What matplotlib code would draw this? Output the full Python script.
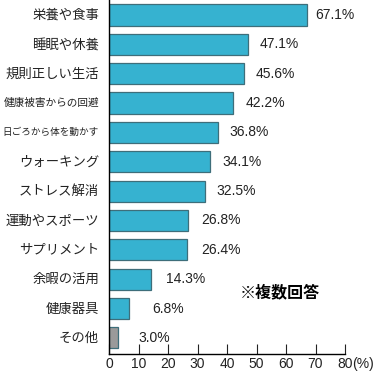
import matplotlib
matplotlib.use("Agg")
import matplotlib.pyplot as plt

plt.rcParams['font.family'] = ['Noto Sans CJK JP', 'DejaVu Sans']

# データ
categories = ["栄養や食事", "睡眠や休養", "規則正しい生活", "健康被害からの回避",
              "日ごろから体を動かす", "ウォーキング", "ストレス解消", "運動やスポーツ",
              "サプリメント", "余暇の活用", "健康器具", "その他"]
values = [67.1, 47.1, 45.6, 42.2, 36.8, 34.1, 32.5, 26.8, 26.4, 14.3, 6.8, 3.0]
xticks = [0, 10, 20, 30, 40, 50, 60, 70, 80]

bar_color = "#36b2d0"
other_color = "#9a9a9a"
label_gap = [2.8, 3.8, 4.2, 4.0, 4.0, 4.2, 3.8, 4.4, 4.8, 4.9, 7.8, 7.0]
num_font = ["Liberation Sans", "DejaVu Sans"]

fig = plt.figure(figsize=(3.77, 3.73), dpi=100)
ax = fig.add_axes([109/377, 19/373, (345-109)/377, 354/373])

colors = [bar_color] * (len(values) - 1) + [other_color]
pos = list(range(len(values)))
ax.barh(pos, values, height=0.72, color=colors, edgecolor="#3e6e7a", linewidth=0.9)

for i, v in enumerate(values):
    ax.text(v + label_gap[i], i, f"{v:.1f}%", va="center", ha="left",
            fontsize=10, family=num_font, color="#222222")

ax.set_xlim(0, 80)
ax.set_ylim(11.55, -0.51)
ax.set_yticks(pos)
ax.set_yticklabels([])
ax.tick_params(axis="y", length=0)

# カテゴリ名(長いものは縮小)
for i, c in enumerate(categories):
    fs = min(9.6, 96 / len(c) / 1.39)
    ax.text(-0.042, i, c, transform=ax.get_yaxis_transform(), ha="right", va="center",
            fontsize=fs, color="#222222")

ax.set_xticks(xticks)
ax.set_xticklabels([str(t) for t in xticks], fontsize=10, family=num_font)
ax.tick_params(axis="x", direction="in", length=7, width=0.8, pad=2, colors="#222222")
ax.annotate("(%)", xy=(80, 0), xycoords=ax.get_xaxis_transform(),
            xytext=(5, -2), textcoords="offset points", ha="left", va="top",
            fontsize=10, family=num_font, color="#222222")

for s in ["top", "right"]:
    ax.spines[s].set_visible(False)
ax.spines["left"].set_linewidth(1.0)
ax.spines["bottom"].set_linewidth(1.0)

fig.text(280/377, 1 - 292/373, "※複数回答", fontsize=11.5, fontweight="bold",
         ha="center", va="center")

fig.savefig("out.png", dpi=100)
